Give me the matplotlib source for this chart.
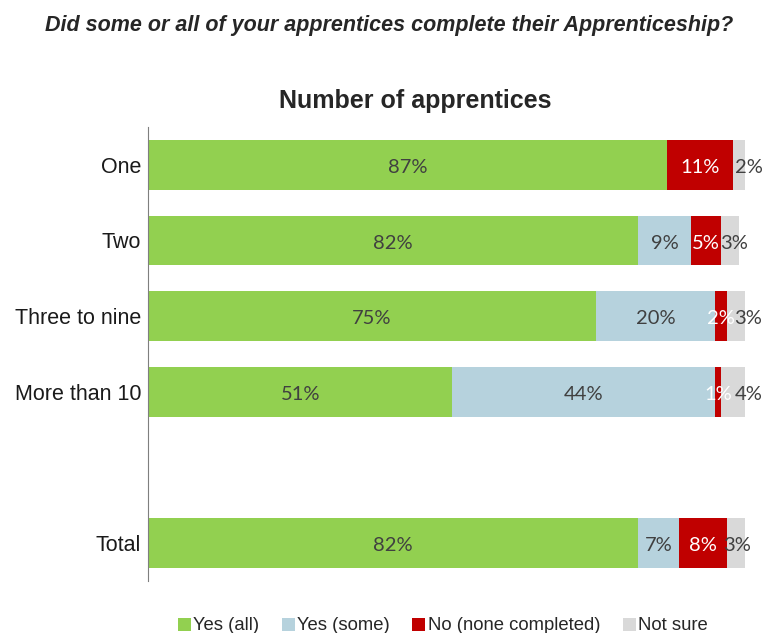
import numpy as np
import matplotlib.pyplot as plt
from matplotlib.patches import Patch

categories = ['One', 'Two', 'Three to nine', 'More than 10', 'Total']
yes_all = [87, 82, 75, 51, 82]
yes_some = [0, 9, 20, 44, 7]
no_none = [11, 5, 2, 1, 8]
not_sure = [2, 3, 3, 4, 3]

series_names = ['Yes (all)', 'Yes (some)', 'No (none completed)', 'Not sure']
colors = ['#92D050', '#B6D2DD', '#C00000', '#D9D9D9']
text_colors = ['#404040', '#404040', 'white', '#404040']
# small sideways nudges (points) for the "Not sure" labels
not_sure_shift = [7, 3, 9, 11, 1]

plt.rcParams['font.family'] = ['Liberation Sans', 'DejaVu Sans']

fig = plt.figure(figsize=(7.63, 6.33), dpi=100)
ax = fig.add_axes([148/763, 1 - 581/633, (745 - 148)/763, (581 - 127)/633])

# an empty slot separates the groups from the total row
ypos = np.array([0, 1, 2, 3, 5])
series = [yes_all, yes_some, no_none, not_sure]
left = np.zeros(len(categories))
for k, (vals, col, tcol) in enumerate(zip(series, colors, text_colors)):
    vals = np.array(vals, dtype=float)
    ax.barh(ypos, vals, left=left, height=0.66, color=col, edgecolor='none')
    for i, (y, l, v) in enumerate(zip(ypos, left, vals)):
        if v > 0:
            dx = not_sure_shift[i] if k == 3 else 0
            ax.annotate(f'{int(v)}%', (l + v / 2, y), xytext=(dx, -2),
                        textcoords='offset points', ha='center', va='center',
                        fontsize=14.5, color=tcol, family='Lato')
    left += vals

ax.set_xlim(0, 100)
ax.set_ylim(5.5, -0.5)
ax.set_yticks(ypos)
ax.set_yticklabels(categories, fontsize=15.5, color='#1a1a1a')
ax.tick_params(axis='y', length=0, pad=5)
ax.set_xticks([])
for s in ['top', 'right', 'bottom']:
    ax.spines[s].set_visible(False)
ax.spines['left'].set_color('#7f7f7f')
ax.spines['left'].set_bounds(-0.5, 5.5)

fig.text(389/763, 1 - 25/633, 'Did some or all of your apprentices complete their Apprenticeship?',
         ha='center', va='center', fontsize=15.5, fontweight='bold', style='italic', color='#262626')
fig.text(415/763, 1 - 101/633, 'Number of apprentices', ha='center', va='center',
         fontsize=18, fontweight='bold', color='#262626')

handles = [Patch(facecolor=c, edgecolor='none') for c in colors]
fig.legend(handles, series_names, loc='center', bbox_to_anchor=(443/763, 1 - 626/633),
           ncol=4, frameon=False, fontsize=13.3, handlelength=0.7, handleheight=0.7,
           handletextpad=0.15, columnspacing=1.2, labelcolor='#262626')

fig.savefig('out.png', dpi=100)
